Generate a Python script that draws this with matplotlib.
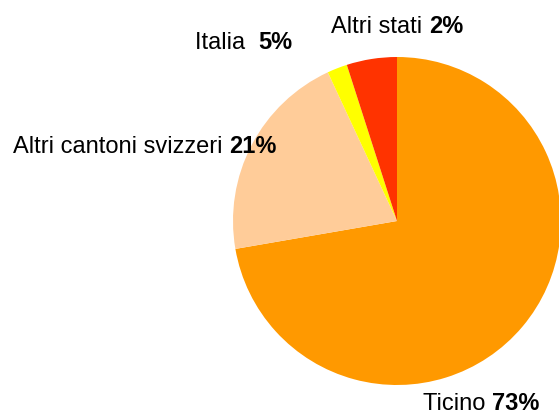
import matplotlib.pyplot as plt

# data
names = ["Ticino", "Altri cantoni svizzeri", "Altri stati", "Italia"]
values = [73, 21, 2, 5]
colors = ["#FF9900", "#FFCC99", "#FFFF00", "#FF3300"]
# text shown next to each slice (regular part, bold part)
label_txt = ["Ticino ", "Altri cantoni svizzeri ", "Altri stati ", "Italia  "]
label_pct = ["73%", "21%", "2%", "5%"]
# label anchor in pie units (radius = 1)
label_pos = [(0.159, -1.152), (-2.341, 0.415), (-0.402, 1.146), (-1.232, 1.049)]

plt.rcParams["font.family"] = ["Liberation Sans", "DejaVu Sans"]

fig = plt.figure(figsize=(5.59, 4.15), dpi=100)
ax = fig.add_axes([233 / 559, 1 - 385 / 415, 328 / 559, 328 / 415])

ax.pie(values, colors=colors, startangle=90, counterclock=False,
       wedgeprops=dict(linewidth=0), radius=1)
ax.set_xlim(-1, 1)
ax.set_ylim(-1, 1)
ax.axis("off")

for txt, pct, (x, y) in zip(label_txt, label_pct, label_pos):
    t = ax.text(x, y, txt, fontsize=17, ha="left", va="baseline", color="black")
    ax.annotate(pct, xy=(1, 0), xycoords=t, ha="left", va="bottom",
                fontsize=17, fontweight="bold", color="black")

plt.savefig("out.png", dpi=100)
